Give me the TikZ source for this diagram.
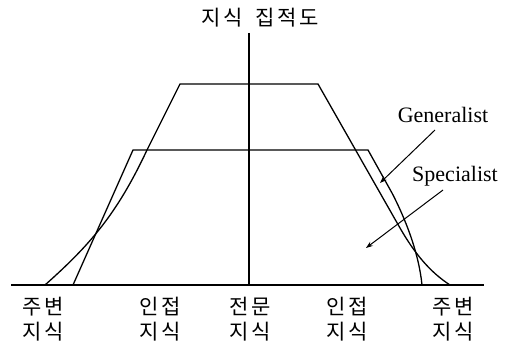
\documentclass[tikz,border=0pt]{standalone}
\usepackage{fontspec}
\setmainfont{Liberation Serif}
\newfontfamily\krfont[LetterSpace=12]{Noto Sans CJK KR}
\usetikzlibrary{arrows.meta}
\begin{document}
\begin{tikzpicture}[x=1pt,y=-1pt,line width=1.3pt,
  krlabel/.style={inner sep=0pt,align=center,font=\krfont\fontsize{21}{25.5}\selectfont},
  enlabel/.style={inner sep=0pt,font=\fontsize{22}{26}\selectfont},
  pointer/.style={line width=1pt,-{Stealth[length=7pt,width=5pt]}}]
\useasboundingbox (0,0) rectangle (506,344);
% title
\node[krlabel] (title) at (260,18) {지식\hspace{0.6em}집적도};
% axes
\coordinate (axtop) at (249,33);
\coordinate (axbot) at (249,285);
\coordinate (bl) at (11,285);
\coordinate (br) at (484,285);
\draw (axtop) -- (axbot);
\draw (bl) -- (br);
% specialist (tall)
\coordinate (sl) at (45,285);
\coordinate (sla) at (147,150);
\coordinate (stl) at (180,84);
\coordinate (str) at (318,84);
\coordinate (sra) at (400,228);
\coordinate (sr) at (450,285);
\draw (sl) .. controls (90,245) and (117,214) .. (sla) -- (stl) -- (str) -- (sra)
      .. controls (415,254) and (430,272) .. (sr);
% generalist (wide)
\coordinate (gl) at (73,285);
\coordinate (gtl) at (133,150);
\coordinate (gtr) at (368,150);
\coordinate (gra) at (392,193);
\coordinate (gr) at (422,285);
\draw (gl) -- (gtl) -- (gtr) -- (gra) .. controls (407,222) and (419,255) .. (gr);
% bottom labels
\node[krlabel] (k1) at (43,319) {주변\\지식};
\node[krlabel] (k2) at (160,319) {인접\\지식};
\node[krlabel] (k3) at (250,319) {전문\\지식};
\node[krlabel] (k4) at (347,319) {인접\\지식};
\node[krlabel] (k5) at (453,319) {주변\\지식};
% annotations
\node[enlabel] (gen) at (443,115) {Generalist};
\node[enlabel] (spec) at (455,176) {Specialist};
\coordinate (gfrom) at (435,130);
\coordinate (gto) at (380,183);
\coordinate (sfrom) at (443,190);
\coordinate (sto) at (366,248);
\draw[pointer] (gfrom) -- (gto);
\draw[pointer] (sfrom) -- (sto);
\end{tikzpicture}
\end{document}
